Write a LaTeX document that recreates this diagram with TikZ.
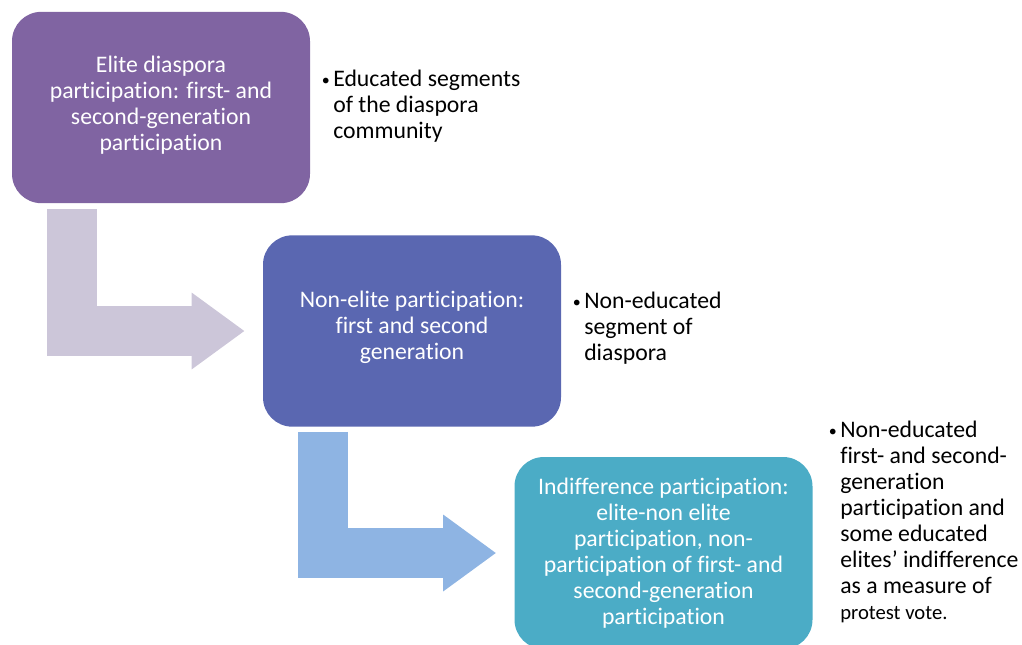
\documentclass[tikz,border=0pt]{standalone}
\usepackage{fontspec}
\setmainfont{Carlito}[Ligatures=NoCommon]
\usetikzlibrary{arrows.meta}

\definecolor{elitepurple}{HTML}{8064A2}
\definecolor{noneliteblue}{HTML}{5A67B1}
\definecolor{indiffaqua}{HTML}{4BACC6}
\definecolor{bendlilac}{HTML}{CCC6D9}
\definecolor{bendblue}{HTML}{8EB4E3}

\tikzset{
  stage/.style={rounded corners=22pt, minimum width=223.5pt, minimum height=143.5pt,
    inner sep=0pt, text=white, align=center, font=\fontsize{17.8}{19.5}\selectfont},
  bentarrow/.style={line width=37.5pt, -{Triangle[length=39.75pt,width=54.75pt]}},
  note/.style={anchor=north west, align=left, inner sep=0pt, font=\fontsize{17.8}{19.5}\selectfont}
}

\newcommand{\notebullet}{\llap{{\fontsize{12}{12}\selectfont\raisebox{1pt}{\textbullet}}\hspace{2.5pt}}}

\begin{document}
\begin{tikzpicture}[x=0.75pt,y=-0.75pt]
  \useasboundingbox (0,0) rectangle (1022,644);

  % stages
  \node[stage, fill=elitepurple] (elite) at (161,107.5)
    {Elite diaspora\\participation: first- and\\second-generation\\participation\\[-13.5pt]};
  \node[stage, fill=noneliteblue] (nonelite) at (412,331)
    {Non-elite participation:\\first and second\\generation\\[-10.5pt]};
  \node[stage, fill=indiffaqua, minimum height=144pt] (indiff) at (663.5,553)
    {Indifference participation:\\elite-non elite\\participation, non-\\participation of first- and\\second-generation\\participation};

  % bent arrows
  \draw[bentarrow, bendlilac] ([shift={(-89,6)}]elite.south) |- ([xshift=-13.5pt]nonelite.west);
  \draw[bentarrow, bendblue] ([shift={(-89,5)}]nonelite.south) |- ([xshift=-13.5pt]indiff.west);

  % notes
  \node[note] (eliteNote) at (333,70)
    {\notebullet Educated segments\\of the diaspora\\community};
  \node[note] (noneliteNote) at (584,292)
    {\notebullet Non-educated\\segment of\\diaspora};
  \node[note] (indiffNote) at (840,421)
    {\notebullet Non-educated\\first- and second-\\generation\\participation and\\some educated\\elites' indifference\\as a measure of\\{\fontsize{15.5}{19.5}\selectfont protest vote.}};
\end{tikzpicture}
\end{document}
